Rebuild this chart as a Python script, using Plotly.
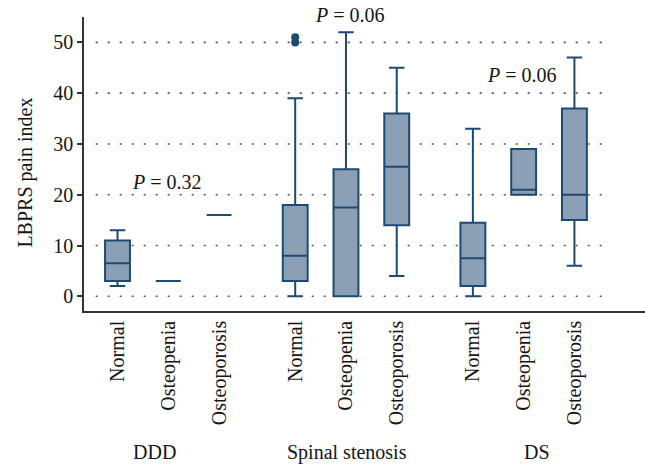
import plotly.graph_objects as go

# ---- data ----
groups = ["DDD", "Spinal stenosis", "DS"]
categories = ["Normal", "Osteopenia", "Osteoporosis"]
lower_whisker = [2, 3, 16, 0, 0, 4, 0, 20, 6]
q1_vals = [3, 3, 16, 3, 0, 14, 2, 20, 15]
median_vals = [6.5, 3, 16, 8, 17.5, 25.5, 7.5, 21, 20]
q3_vals = [11, 3, 16, 18, 25, 36, 14.5, 29, 37]
upper_whisker = [13, 3, 16, 39, 52, 45, 33, 29, 47]
outlier_group = "Spinal stenosis"
outlier_category = "Normal"
outlier_values = [50, 51]
p_texts = ["<i>P</i> = 0.32", "<i>P</i> = 0.06", "<i>P</i> = 0.06"]
y_ticks = [0, 10, 20, 30, 40, 50]

FONT = "Liberation Serif"
LINE = "#1c4a72"
FILL = "#8ca0b5"
TXT = "#151515"

# positions: 3 boxes per group, groups separated by a gap
GROUP_STEP = 3.5
xs, labels = [], []
for gi, g in enumerate(groups):
    for ci, c in enumerate(categories):
        xs.append(gi * GROUP_STEP + ci)
        labels.append(c)

def pos(g, c):
    return groups.index(g) * GROUP_STEP + categories.index(c)

fig = go.Figure()
fig.add_trace(go.Box(
    x=xs, q1=q1_vals, median=median_vals, q3=q3_vals,
    lowerfence=lower_whisker, upperfence=upper_whisker,
    width=0.49, whiskerwidth=0.62,
    fillcolor=FILL, line=dict(color=LINE, width=2),
    boxpoints=False, showlegend=False, hoverinfo="skip",
))
fig.add_trace(go.Scatter(
    x=[pos(outlier_group, outlier_category)] * len(outlier_values),
    y=outlier_values, mode="markers",
    marker=dict(color=LINE, size=8), showlegend=False, hoverinfo="skip",
))

# dotted gridlines
for t in y_ticks:
    fig.add_shape(type="line", xref="x", yref="y", x0=-0.43, x1=9.55, y0=t, y1=t,
                  line=dict(color="#555555", width=1.6, dash="2px,10px"), layer="below")

ann = dict(showarrow=False, xanchor="center", yanchor="middle",
           font=dict(family=FONT, size=20, color=TXT))

# P-value annotations
p_x = [0.98, 4.57, 7.96]
p_y = [0.439, 1.007, 0.803]
for t, x, y in zip(p_texts, p_x, p_y):
    fig.add_annotation(text=t, x=x, y=y, xref="x", yref="paper", **ann)

# group labels
g_x = [0.73, 4.52, 8.26]
for g, x in zip(groups, g_x):
    fig.add_annotation(text=g, x=x, y=-0.48, xref="x", yref="paper", **ann)

# y-axis title
fig.add_annotation(text="LBPRS pain index", x=-0.105, y=0.471, xref="paper", yref="paper",
                   textangle=-90, **ann)

fig.update_layout(
    width=645, height=465,
    margin=dict(l=84, r=0, t=17, b=154),
    paper_bgcolor="white", plot_bgcolor="white",
    font=dict(family=FONT, size=20, color=TXT),
    xaxis=dict(range=[-0.66, 10.39], tickvals=xs, ticktext=labels, tickangle=-90,
               showgrid=False, zeroline=False, showline=True, linecolor="#333333",
               linewidth=1.6, ticks="", automargin=False,
               tickfont=dict(family=FONT, size=20, color=TXT)),
    yaxis=dict(range=[-2.9, 55], tickvals=y_ticks, showgrid=False, zeroline=False,
               showline=True, linecolor="#333333", linewidth=1.6,
               ticks="outside", ticklen=5, tickwidth=1.5, tickcolor="#333333",
               automargin=False, tickfont=dict(family=FONT, size=20, color=TXT)),
)

fig.write_html("out.html", config={"displayModeBar": False},
               post_script="document.body.style.margin='0';")
